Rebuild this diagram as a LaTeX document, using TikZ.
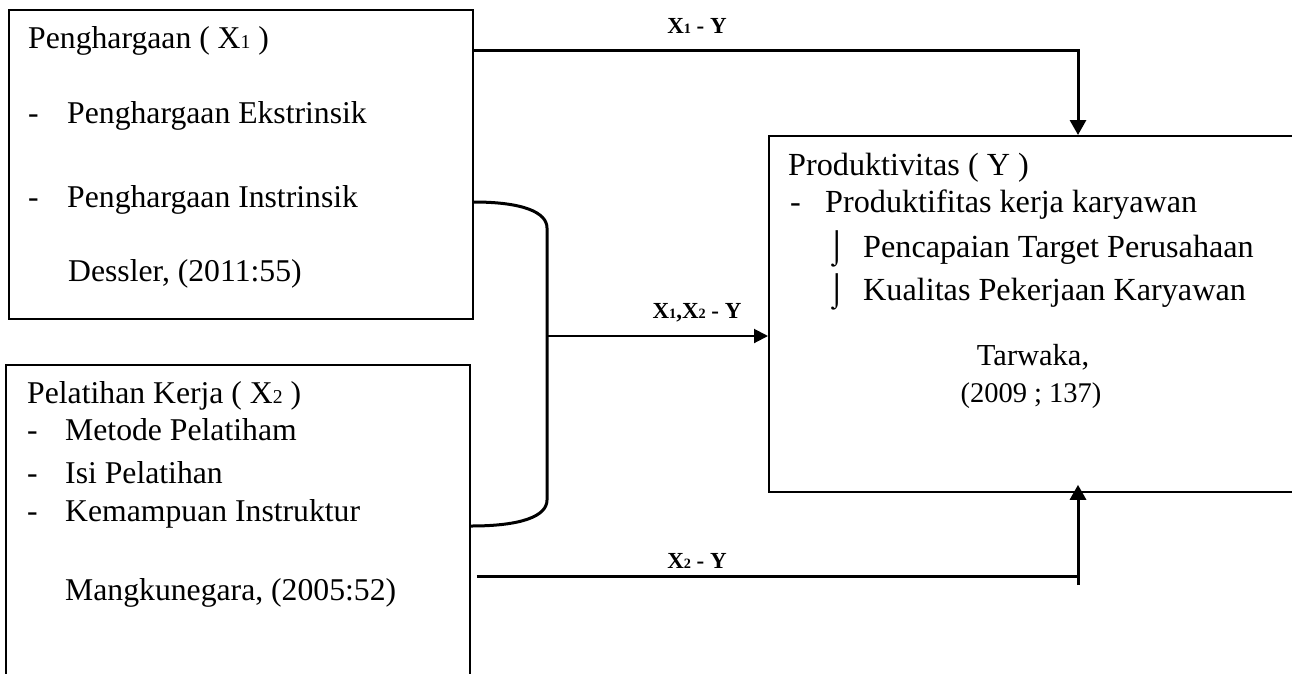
\documentclass[tikz,border=0pt]{standalone}
\usepackage{fontspec}
\setmainfont{Liberation Serif}
\usetikzlibrary{arrows.meta}
\newcommand{\subd}[1]{\scalebox{0.62}{#1}}
\tikzset{
  boxst/.style={draw, line width=1.8pt, rectangle, inner sep=0pt, anchor=north west},
  txt/.style={anchor=base west, inner sep=0pt, font=\fontsize{31.7}{38}\selectfont},
  ytxt/.style={anchor=base west, inner sep=0pt, font=\fontsize{32.2}{38}\selectfont},
  ctxt/.style={anchor=base, inner sep=0pt},
  lab/.style={anchor=base, inner sep=0pt, font=\fontsize{23}{28}\selectfont\bfseries},
  conn/.style={line width=3pt},
  midconn/.style={line width=2pt},
  bigtip/.style={-{Triangle[length=15pt,width=16pt]}},
  midtip/.style={-{Triangle[length=14pt,width=14pt]}}
}
\begin{document}
\begin{tikzpicture}[x=1pt,y=-1pt]
\clip (0,0) rectangle (1292,673);
\fill[white] (0,0) rectangle (1292,673);

% boxes
\node[boxst, minimum width=464pt, minimum height=309pt] (b1) at (8,9) {};
\node[boxst, minimum width=464pt, minimum height=340pt] (b2) at (5,364) {};
\node[boxst, minimum width=560pt, minimum height=356pt] (b3) at (768,135) {};

% box 1 text
\node[txt] (t11) at (28,48) {Penghargaan ( X\subd{1} )};
\node[txt] (t12d) at (28,123) {-};
\node[txt] (t12) at (67,123) {Penghargaan Ekstrinsik};
\node[txt] (t13d) at (28,207) {-};
\node[txt] (t13) at (67,207) {Penghargaan Instrinsik};
\node[txt] (t14) at (68,281) {Dessler, (2011:55)};

% box 2 text
\node[txt] (t21) at (27,403) {Pelatihan Kerja ( X\subd{2} )};
\node[txt] (t22d) at (27,440) {-};
\node[txt] (t22) at (65,440) {Metode Pelatiham};
\node[txt] (t23d) at (27,483) {-};
\node[txt] (t23) at (65,483) {Isi Pelatihan};
\node[txt] (t24d) at (27,521) {-};
\node[txt] (t24) at (65,521) {Kemampuan Instruktur};
\node[txt] (t25) at (65,600) {Mangkunegara, (2005:52)};

% box 3 text
\node[ytxt] (t31) at (788,175) {Produktivitas ( Y )};
\node[ytxt] (t32d) at (790,212) {-};
\node[ytxt] (t32) at (825,212) {Produktifitas kerja karyawan};
\node[ytxt] (t33s) at (827,257) {⌡};
\node[ytxt] (t33) at (863,257) {Pencapaian Target Perusahaan};
\node[ytxt] (t34s) at (827,300) {⌡};
\node[ytxt] (t34) at (863,300) {Kualitas Pekerjaan Karyawan};
\node[ctxt, font=\fontsize{30.5}{36}\selectfont] (t35) at (1033,365) {Tarwaka,};
\node[ctxt, font=\fontsize{28.5}{34}\selectfont] (t36) at (1031,402) {(2009 ; 137)};

% labels
\node[lab] (l1) at (697,33) {X\subd{1} - Y};
\node[lab] (l2) at (697,318) {X\subd{1},X\subd{2} - Y};
\node[lab] (l3) at (697,568) {X\subd{2} - Y};

% connectors
\coordinate (p1) at (1078,50);
\draw[conn, bigtip] (b1.east |- p1) -| (b3.north -| p1);

\draw[conn] (b1.east |- 0,202) .. controls (522,202) and (547,212) .. (547,228)
  -- (547,500) .. controls (547,516) and (522,526) .. (b2.east |- 0,526);

\coordinate (m) at (547,336);
\draw[midconn, midtip] (m) -- (m -| b3.west);

\coordinate (q2) at (1078,576);
\coordinate (q3) at (1078,585);
\draw[conn, shorten <=6pt] (b2.east |- q2) -- (q2);
\draw[conn, bigtip, shorten >=-8pt] (q3) -- (q3 |- b3.south);
\end{tikzpicture}
\end{document}
